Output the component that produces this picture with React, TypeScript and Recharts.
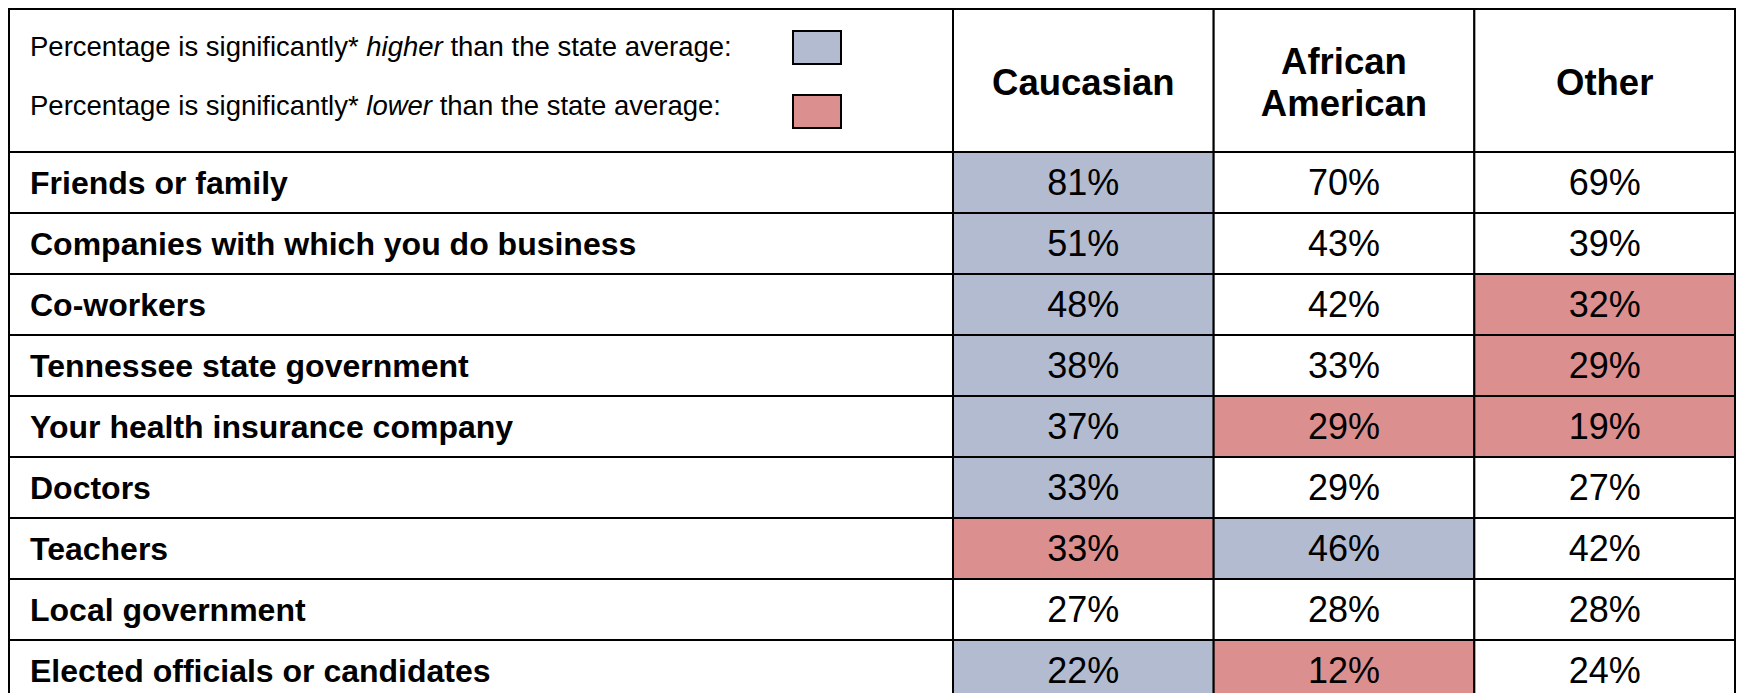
import React from 'react';
import { ScatterChart, Scatter, XAxis, YAxis, Legend } from 'recharts';

// ---------- data ----------
const columns = ['Caucasian', 'African American', 'Other'];
const rows = [
  'Friends or family',
  'Companies with which you do business',
  'Co-workers',
  'Tennessee state government',
  'Your health insurance company',
  'Doctors',
  'Teachers',
  'Local government',
  'Elected officials or candidates',
];
const caucasian = [81, 51, 48, 38, 37, 33, 33, 27, 22];
const africanAmerican = [70, 43, 42, 33, 29, 29, 46, 28, 12];
const other = [69, 39, 32, 29, 19, 27, 42, 28, 24];
// 'H' = significantly higher, 'L' = significantly lower, '' = not significant
const caucasianSig = ['H', 'H', 'H', 'H', 'H', 'H', 'L', '', 'H'];
const africanAmericanSig = ['', '', '', '', 'L', '', 'H', '', 'L'];
const otherSig = ['', '', 'L', 'L', 'L', '', '', '', ''];
const legendItems = [
  { key: 'H', before: 'Percentage is significantly* ', em: 'higher', after: ' than the state average:' },
  { key: 'L', before: 'Percentage is significantly* ', em: 'lower', after: ' than the state average:' },
];

// ---------- styling / layout ----------
const FONT = '"Liberation Sans", Arial, Helvetica, sans-serif';
const COLORS: Record<string, string> = { H: '#B2BBD0', L: '#DB8F8F', '': '#FFFFFF' };
const CHART_W = 1737;
const CHART_H = 701;
const M_TOP = 9;
const M_LEFT = 9;
const M_RIGHT = 2;
const HEADER_H = 143;
const LABEL_W = 944;
const PLOT_LEFT = M_LEFT + LABEL_W;
const PLOT_TOP = M_TOP + HEADER_H;
const CELL_W = (CHART_W - M_RIGHT - PLOT_LEFT) / columns.length;
const CELL_H = (CHART_H - PLOT_TOP) / rows.length;
const LINE = '#000';
const SW = 2;

const seriesValues = [caucasian, africanAmerican, other];
const seriesSig = [caucasianSig, africanAmericanSig, otherSig];
const cells = columns.flatMap((col, ci) =>
  rows.map((row, ri) => ({ col, row, value: seriesValues[ci][ri], sig: seriesSig[ci][ri] }))
);

const CellShape = (props: any) => {
  const { cx, cy, payload } = props;
  if (cx == null || cy == null) return null;
  return (
    <g>
      <rect
        x={cx - CELL_W / 2}
        y={cy - CELL_H / 2}
        width={CELL_W}
        height={CELL_H}
        fill={COLORS[payload.sig]}
        stroke={LINE}
        strokeWidth={SW}
      />
      <text x={cx} y={cy} dy="0.36em" textAnchor="middle" fontSize={36} fontFamily={FONT} fill="#000">
        {payload.value}%
      </text>
    </g>
  );
};

const HeaderTick = (props: any) => {
  const { x, payload } = props;
  const lines = String(payload.value).split(' ');
  const lh = 42;
  const center = 82;
  const start = center - ((lines.length - 1) * lh) / 2;
  return (
    <g>
      <rect x={x - CELL_W / 2} y={M_TOP} width={CELL_W} height={HEADER_H} fill="#fff" stroke={LINE} strokeWidth={SW} />
      {lines.map((ln, i) => (
        <text
          key={i}
          x={x}
          y={start + i * lh}
          dy="0.36em"
          textAnchor="middle"
          fontSize={36.5}
          fontWeight="bold"
          fontFamily={FONT}
          fill="#000"
        >
          {ln}
        </text>
      ))}
    </g>
  );
};

const RowTick = (props: any) => {
  const { y, payload } = props;
  return (
    <g>
      <rect x={M_LEFT} y={y - CELL_H / 2} width={LABEL_W} height={CELL_H} fill="#fff" stroke={LINE} strokeWidth={SW} />
      <text x={30} y={y} dy="0.36em" textAnchor="start" fontSize={32} fontWeight="bold" fontFamily={FONT} fill="#000">
        {payload.value}
      </text>
    </g>
  );
};

const LegendContent = () => (
  <div
    style={{
      position: 'relative',
      boxSizing: 'border-box',
      width: LABEL_W + 2,
      height: HEADER_H + 2,
      border: `2px solid ${LINE}`,
      background: '#fff',
      fontFamily: FONT,
    }}
  >
    {legendItems.map((it, i) => {
      const textCy = i === 0 ? 36.5 : 96;
      const boxTop = i === 0 ? 20 : 84;
      return (
        <React.Fragment key={it.key}>
          <div
            style={{
              position: 'absolute',
              left: 20,
              top: textCy - 16,
              height: 32,
              lineHeight: '32px',
              fontSize: 27.5,
              color: '#000',
              whiteSpace: 'nowrap',
            }}
          >
            {it.before}
            <i>{it.em}</i>
            {it.after}
          </div>
          <div
            style={{
              position: 'absolute',
              boxSizing: 'border-box',
              left: 782,
              top: boxTop,
              width: 50,
              height: 35,
              border: `2px solid ${LINE}`,
              background: COLORS[it.key],
            }}
          />
        </React.Fragment>
      );
    })}
  </div>
);

export default function App() {
  return (
    <div style={{ position: 'absolute', left: 0, top: 0, width: CHART_W, height: 693, overflow: 'hidden', background: '#fff' }}>
      <ScatterChart width={CHART_W} height={CHART_H} margin={{ top: M_TOP, left: M_LEFT, right: M_RIGHT, bottom: 0 }}>
        <XAxis
          xAxisId="col"
          dataKey="col"
          type="category"
          orientation="top"
          height={HEADER_H}
          allowDuplicatedCategory={false}
          interval={0}
          axisLine={false}
          tickLine={false}
          tick={<HeaderTick />}
        />
        <YAxis
          yAxisId="row"
          dataKey="row"
          type="category"
          width={LABEL_W}
          reversed
          allowDuplicatedCategory={false}
          interval={0}
          axisLine={false}
          tickLine={false}
          tick={<RowTick />}
        />
        <Legend
          verticalAlign="middle"
          align="center"
          layout="horizontal"
          wrapperStyle={{ position: 'absolute', left: 8, top: 8, width: LABEL_W + 2, height: HEADER_H + 2 }}
          content={<LegendContent />}
        />
        <Scatter
          xAxisId="col"
          yAxisId="row"
          data={cells}
          shape={<CellShape />}
          isAnimationActive={false}
        />
      </ScatterChart>
    </div>
  );
}
